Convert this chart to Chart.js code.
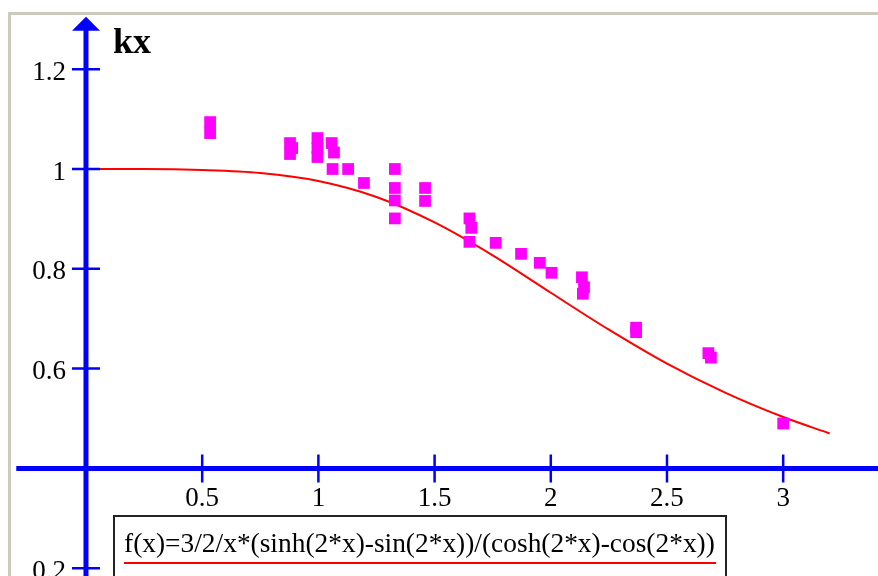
<!DOCTYPE html>
<html>
<head>
<meta charset="utf-8">
<script src="https://cdn.jsdelivr.net/npm/chart.js@4.4.1/dist/chart.umd.min.js"></script>
<style>
  html, body { margin: 0; padding: 0; background: #fff; }
  #wrap { width: 878px; height: 576px; position: relative; }
</style>
</head>
<body>
<div id="wrap"><canvas id="grafico"></canvas></div>
<script>
const puntosX = [0.534, 0.534, 0.878, 0.887, 0.878, 0.996, 0.996, 0.996, 1.057, 1.067, 1.061, 1.128, 1.196,
    1.329, 1.329, 1.329, 1.329, 1.459, 1.459, 1.650, 1.658, 1.650, 1.763, 1.872, 1.953, 2.003,
    2.134, 2.143, 2.138, 2.367, 2.367, 2.678, 2.689, 3.0];
const puntosY = [1.094, 1.072, 1.052, 1.042, 1.030, 1.062, 1.042, 1.024, 1.052, 1.033, 1.0, 1.0, 0.972,
    1.0, 0.962, 0.937, 0.901, 0.962, 0.936, 0.901, 0.882, 0.854, 0.852, 0.830, 0.812, 0.792,
    0.783, 0.763, 0.750, 0.682, 0.673, 0.631, 0.622, 0.490];
const curvaX = [0, 0.25, 0.5, 0.75, 1, 1.25, 1.5, 1.75, 2, 2.25, 2.5, 2.75, 3, 3.2];
const curvaY = [1, 1.0, 0.998, 0.992, 0.976, 0.944, 0.893, 0.827, 0.752, 0.678, 0.610, 0.552, 0.503, 0.470];
const ticksX = [0.5, 1, 1.5, 2, 2.5, 3];
const etiquetasX = ['0.5', '1', '1.5', '2', '2.5', '3'];
const ticksY = [0.2, 0.6, 0.8, 1, 1.2];
const etiquetasY = ['0.2', '0.6', '0.8', '1', '1.2'];
const tituloY = 'kx';
const leyenda = 'f(x)=3/2/x*(sinh(2*x)-sin(2*x))/(cosh(2*x)-cos(2*x))';

const X_MIN = -0.37, X_MAX = 3.408;
const Y_MIN = 0.1844, Y_MAX = 1.3387;
const CRUCE_X = 0, CRUCE_Y = 0.4;   // donde se cruzan los ejes
const INICIO_EJE_X = -0.30;
const PUNTA_FLECHA = 1.305;
const FUENTE = '"Liberation Serif", "Times New Roman", serif';

const ejesMathcad = {
    id: 'ejesMathcad',
    beforeDraw(chart) {
        const ctx = chart.ctx;
        ctx.save();
        ctx.fillStyle = '#fff';
        ctx.fillRect(0, 0, chart.width, chart.height);
        // marco gris de la ventana
        ctx.fillStyle = '#cdc9bd';
        ctx.fillRect(8, 12, chart.width - 8, 3);
        ctx.fillRect(8, 12, 3, chart.height - 12);
        ctx.restore();
    },
    afterDatasetsDraw(chart) {
        const { ctx, scales: { x, y } } = chart;
        const x0 = x.getPixelForValue(CRUCE_X);
        const y0 = y.getPixelForValue(CRUCE_Y);
        const yPunta = y.getPixelForValue(PUNTA_FLECHA);
        ctx.save();
        ctx.strokeStyle = '#0000ff';
        ctx.fillStyle = '#0000ff';
        ctx.lineWidth = 5;
        ctx.beginPath();
        ctx.moveTo(x.getPixelForValue(INICIO_EJE_X), y0);
        ctx.lineTo(chart.width, y0);
        ctx.moveTo(x0, chart.height);
        ctx.lineTo(x0, yPunta + 10);
        ctx.stroke();
        // flecha del eje y
        ctx.beginPath();
        ctx.moveTo(x0, yPunta);
        ctx.lineTo(x0 - 14, yPunta + 14);
        ctx.lineTo(x0 + 14, yPunta + 14);
        ctx.closePath();
        ctx.fill();

        // marcas
        ctx.lineWidth = 2.5;
        ctx.beginPath();
        ticksX.forEach(v => {
            const px = x.getPixelForValue(v);
            ctx.moveTo(px, y0 - 14);
            ctx.lineTo(px, y0 + 14);
        });
        ticksY.forEach(v => {
            const py = y.getPixelForValue(v);
            ctx.moveTo(x0 - 14, py);
            ctx.lineTo(x0 + 14, py);
        });
        ctx.stroke();

        // etiquetas
        ctx.fillStyle = '#000';
        ctx.font = '27px ' + FUENTE;
        ctx.textBaseline = 'alphabetic';
        ctx.textAlign = 'center';
        ticksX.forEach((v, i) => ctx.fillText(etiquetasX[i], x.getPixelForValue(v), y0 + 38));
        ctx.textAlign = 'right';
        ticksY.forEach((v, i) => ctx.fillText(etiquetasY[i], x0 - 20, y.getPixelForValue(v) + 10.5));
        ctx.textAlign = 'left';
        ctx.font = 'bold 36px ' + FUENTE;
        ctx.fillText(tituloY, x0 + 27, 53);

        // recuadro de la leyenda
        ctx.strokeStyle = '#222';
        ctx.lineWidth = 2;
        ctx.strokeRect(114, 516, 612, 100);
        ctx.font = '27px ' + FUENTE;
        const ancho = ctx.measureText(leyenda).width;
        const tam = 27 * 591 / ancho;
        ctx.font = tam.toFixed(2) + 'px ' + FUENTE;
        ctx.fillText(leyenda, 124, 552);
        ctx.fillStyle = '#ff0000';
        ctx.fillRect(124, 562, 592, 2);
        ctx.restore();
    }
};

const ctx = document.getElementById('grafico').getContext('2d');
new Chart(ctx, {
    type: 'scatter',
    data: {
        datasets: [{
            label: 'kx',
            data: puntosX.map((v, i) => ({ x: v, y: puntosY[i] })),
            pointStyle: 'rect',
            pointRadius: 8.3,
            pointHoverRadius: 8.3,
            pointBorderWidth: 0,
            backgroundColor: '#ff00ff',
            showLine: false
        }, {
            label: 'f(x)',
            data: curvaX.map((v, i) => ({ x: v, y: curvaY[i] })),
            showLine: true,
            borderColor: '#ff0000',
            borderWidth: 2,
            pointRadius: 0,
            cubicInterpolationMode: 'monotone'
        }]
    },
    options: {
        responsive: true,
        maintainAspectRatio: false,
        animation: false,
        layout: { padding: 0, autoPadding: false },
        plugins: {
            legend: { display: false },
            tooltip: { enabled: false }
        },
        scales: {
            x: { type: 'linear', min: X_MIN, max: X_MAX, display: false },
            y: { type: 'linear', min: Y_MIN, max: Y_MAX, display: false }
        }
    },
    plugins: [ejesMathcad]
});
</script>
</body>
</html>
